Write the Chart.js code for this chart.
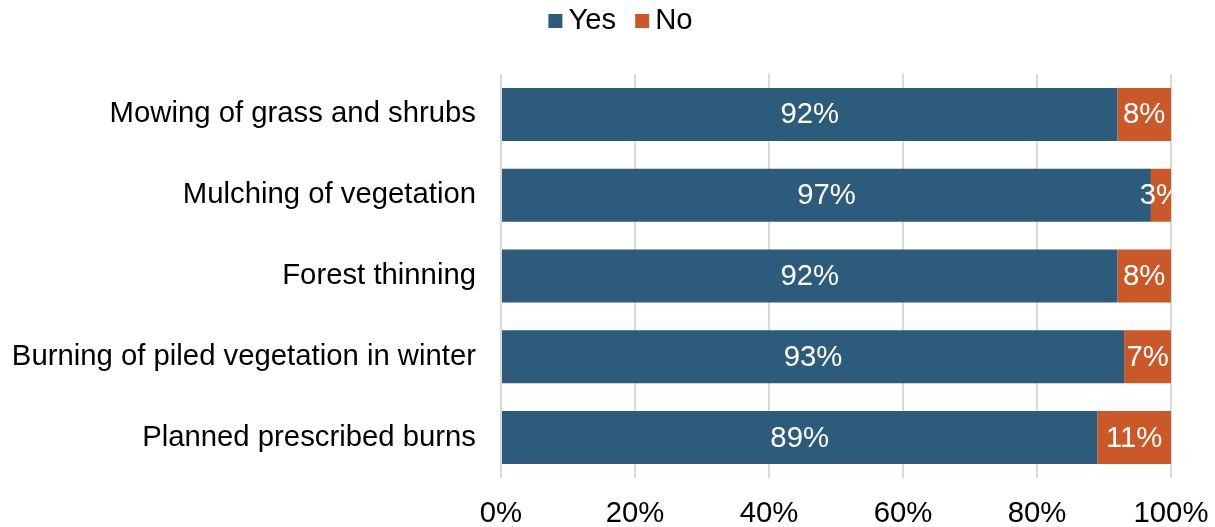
<!DOCTYPE html>
<html>
<head>
<meta charset="utf-8">
<script src="https://cdn.jsdelivr.net/npm/chart.js@4/dist/chart.umd.min.js"></script>
<style>
  html, body { margin: 0; padding: 0; background: #fff; }
  #wrap { width: 1215px; height: 527px; }
</style>
</head>
<body>
<div id="wrap"><canvas id="c" width="1215" height="527"></canvas></div>
<script>
const categories = [
  "Mowing of grass and shrubs",
  "Mulching of vegetation",
  "Forest thinning",
  "Burning of piled vegetation in winter",
  "Planned prescribed burns"
];
const yesValues = [92, 97, 92, 93, 89];
const noValues = [8, 3, 8, 7, 11];
const seriesNames = ["Yes", "No"];
const xTickValues = [0, 20, 40, 60, 80, 100];

const FONT = "'Liberation Sans', Arial, sans-serif";
const FONT_SIZE = 29.3;

// Writes each segment's percentage in the middle of its bar, clipped to the plot area
const segmentLabels = {
  id: "segmentLabels",
  afterDatasetsDraw(chart) {
    const ctx = chart.ctx;
    const area = chart.chartArea;
    ctx.save();
    ctx.beginPath();
    ctx.rect(area.left, area.top, area.right - area.left, area.bottom - area.top);
    ctx.clip();
    ctx.font = FONT_SIZE + "px " + FONT;
    ctx.fillStyle = "#ffffff";
    ctx.textAlign = "center";
    ctx.textBaseline = "middle";
    chart.data.datasets.forEach((ds, di) => {
      const meta = chart.getDatasetMeta(di);
      meta.data.forEach((bar, i) => {
        const p = bar.getProps(["x", "y", "base"], true);
        ctx.fillText(ds.data[i] + "%", (p.x + p.base) / 2, p.y + 1);
      });
    });
    ctx.restore();
  }
};

// Compact legend above the plot: small square swatch followed by its series name
const topLegend = {
  id: "topLegend",
  afterDraw(chart) {
    const ctx = chart.ctx;
    const box = 14, gap = 6, itemGap = 19;
    const y = 20;
    ctx.save();
    ctx.font = FONT_SIZE + "px " + FONT;
    ctx.textBaseline = "middle";
    ctx.textAlign = "left";
    const items = chart.data.datasets.map(ds => ({
      text: ds.label, color: ds.backgroundColor, w: ctx.measureText(ds.label).width
    }));
    const total = items.reduce((s, it) => s + box + gap + it.w, 0) + itemGap * (items.length - 1);
    let x = (chart.width - total) / 2 + 13;
    items.forEach(it => {
      ctx.fillStyle = it.color;
      ctx.fillRect(x, y - box / 2 + 1, box, box);
      ctx.fillStyle = "#000000";
      ctx.fillText(it.text, x + box + gap, y + 1);
      x += box + gap + it.w + itemGap;
    });
    ctx.restore();
  }
};

new Chart(document.getElementById("c"), {
  type: "bar",
  data: {
    labels: categories,
    datasets: [
      { label: seriesNames[0], data: yesValues, backgroundColor: "#2C5B7B", borderWidth: 0 },
      { label: seriesNames[1], data: noValues, backgroundColor: "#CA5828", borderWidth: 0 }
    ]
  },
  options: {
    indexAxis: "y",
    responsive: false,
    animation: false,
    layout: { padding: { top: 74, right: 44, bottom: 0, left: 0 } },
    datasets: { bar: { categoryPercentage: 0.656, barPercentage: 1.0 } },
    plugins: {
      legend: { display: false },
      tooltip: { enabled: false }
    },
    scales: {
      x: {
        stacked: true,
        min: 0,
        max: 100,
        afterBuildTicks(axis) {
          axis.ticks = xTickValues.map(v => ({ value: v }));
        },
        afterFit(axis) {
          axis.height = 49;
          axis.paddingLeft = 0;
          axis.paddingRight = 0;
        },
        ticks: {
          font: { family: FONT, size: FONT_SIZE },
          color: "#000000",
          padding: 18,
          maxRotation: 0,
          callback: v => v + "%"
        },
        grid: { color: "#d9d9d9", lineWidth: 2, drawTicks: false },
        border: { display: false }
      },
      y: {
        stacked: true,
        afterFit(axis) { axis.width = 501; },
        ticks: {
          font: { family: FONT, size: FONT_SIZE },
          color: "#000000",
          padding: 25
        },
        grid: { display: false, drawTicks: false },
        border: { display: false }
      }
    }
  },
  plugins: [segmentLabels, topLegend]
});
</script>
</body>
</html>
